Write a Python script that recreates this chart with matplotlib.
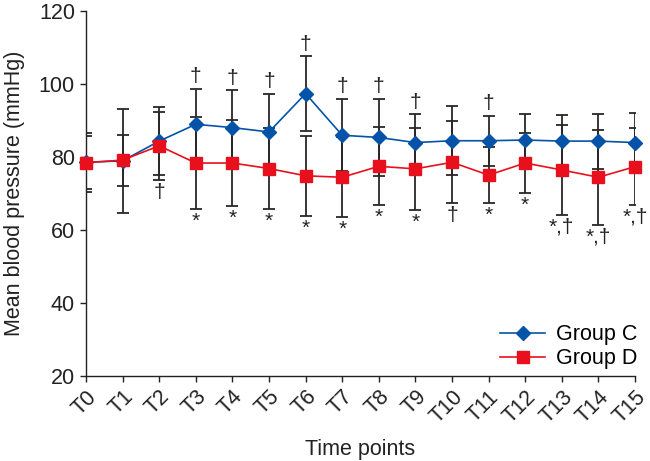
import matplotlib
matplotlib.use("Agg")
import matplotlib.pyplot as plt
from matplotlib.lines import Line2D

plt.rcParams["font.family"] = ["Liberation Sans", "DejaVu Sans"]

time_points = ["T0", "T1", "T2", "T3", "T4", "T5", "T6", "T7",
               "T8", "T9", "T10", "T11", "T12", "T13", "T14", "T15"]

group_c_mean = [78.5, 78.9, 84.3, 88.9, 88.0, 86.8, 97.3, 85.9,
                85.3, 83.9, 84.4, 84.4, 84.6, 84.3, 84.3, 83.9]
group_c_sd = [8.0, 14.3, 9.3, 9.8, 10.2, 10.4, 10.2, 9.9,
              10.6, 7.7, 9.4, 6.9, 7.2, 7.2, 7.5, 8.0]
group_d_mean = [78.4, 79.1, 83.0, 78.3, 78.3, 76.8, 74.8, 74.4,
                77.4, 76.7, 78.5, 75.0, 78.3, 76.4, 74.4, 77.3]
group_d_sd = [7.2, 7.0, 9.3, 12.5, 11.8, 11.0, 11.0, 10.9,
              10.7, 11.2, 11.2, 7.7, 8.2, 12.2, 13.0, 10.5]

# significance marks: above Group C bars, below Group D bars
marks_c = ["", "", "", "†", "†", "†", "†", "†",
           "†", "†", "", "†", "", "", "", ""]
marks_d = ["", "", "†", "*", "*", "*", "*", "*",
           "*", "*", "†", "*", "*", "*,†", "*,†", "*,†"]

blue = "#0553a8"
red = "#e8101c"
bar_color = "#2b2626"
text_color = "#222222"
fs = 15.5

x = list(range(len(time_points)))

fig = plt.figure(figsize=(6.5, 4.61), dpi=100)
ax = fig.add_axes([0.1323, 0.1844, 0.8446, 0.7924])

ax.errorbar(x, group_c_mean, yerr=group_c_sd, fmt="none", ecolor=bar_color,
            elinewidth=1.3, capsize=4.6, capthick=1.3, zorder=2)
ax.errorbar(x, group_d_mean, yerr=group_d_sd, fmt="none", ecolor=bar_color,
            elinewidth=1.3, capsize=4.6, capthick=1.3, zorder=2)

ax.plot(x, group_c_mean, color=blue, lw=1.2, marker="D", ms=7,
        mec=blue, mfc=blue, zorder=3, clip_on=False)
ax.plot(x, group_d_mean, color=red, lw=1.2, marker="s", ms=9,
        mec=red, mfc=red, zorder=4, clip_on=False)

for i in x:
    if marks_c[i]:
        ax.annotate(marks_c[i], (i, group_c_mean[i] + group_c_sd[i]),
                    xytext=(0, 2), textcoords="offset points",
                    ha="center", va="bottom", fontsize=15, color=text_color)
    if marks_d[i]:
        low = min(group_d_mean[i] - group_d_sd[i], group_c_mean[i] - group_c_sd[i])
        ax.annotate(marks_d[i], (i, low),
                    xytext=(0, -2), textcoords="offset points",
                    ha="center", va="top", fontsize=15, color=text_color)

ax.set_xlim(0, 15)
ax.set_ylim(20, 120)
ax.set_yticks([20, 40, 60, 80, 100, 120])
ax.set_xticks(x)
ax.set_xticklabels(time_points, rotation=45, ha="right", rotation_mode="anchor")
ax.tick_params(axis="both", labelsize=fs, direction="out", length=4.5,
               width=1, color=text_color, labelcolor=text_color)
ax.tick_params(axis="x", pad=3)

for side in ["top", "right"]:
    ax.spines[side].set_visible(False)
for side in ["left", "bottom"]:
    ax.spines[side].set_color(text_color)
    ax.spines[side].set_linewidth(1)

ax.set_ylabel("Mean blood pressure (mmHg)", fontsize=fs, color=text_color,
              labelpad=10)
ax.set_xlabel("Time points", fontsize=fs, color=text_color, labelpad=8)

handles = [
    Line2D([], [], color=blue, lw=1.2, marker="D", ms=7, mfc=blue, mec=blue),
    Line2D([], [], color=red, lw=1.2, marker="s", ms=9, mfc=red, mec=red),
]
ax.legend(handles, ["Group C", "Group D"], loc="lower right",
          bbox_to_anchor=(1.04, -0.035), frameon=False, fontsize=fs,
          handlelength=2.1, labelspacing=0.15, handletextpad=0.5)

fig.savefig("out.png", dpi=100)
plt.close(fig)
